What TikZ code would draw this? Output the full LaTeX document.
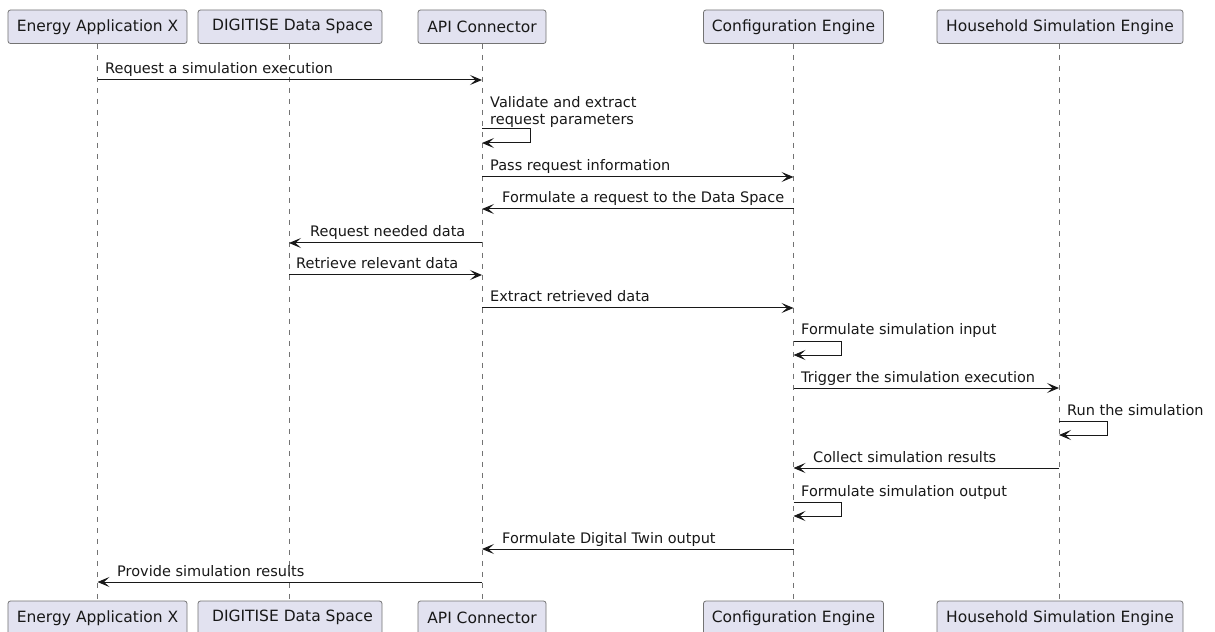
\documentclass[tikz,border=0pt]{standalone}
\usepackage{fontspec}
\setmainfont{DejaVu Sans}
\usetikzlibrary{arrows.meta}
\definecolor{lc}{HTML}{181818}
\definecolor{pbg}{HTML}{E2E2F0}
\begin{document}
\begin{tikzpicture}[x=1bp,y=-1bp,
  part/.style={draw=black!55, line width=0.8bp, fill=pbg, rounded corners=2.5bp,
    minimum height=33.5bp, inner sep=0pt, font=\fontsize{15.5bp}{18bp}\selectfont, text=lc},
  life/.style={draw=black!55, line width=0.7bp, dash pattern=on 5.5bp off 5.5bp},
  msg/.style={draw=lc, line width=1bp, -{Stealth[length=12bp,width=10bp,inset=5.5bp]}},
  lbl/.style={font=\fontsize{14.5bp}{17bp}\selectfont, inner sep=0pt, text=lc},
]
\useasboundingbox (0,0) rectangle (1215,632);
\fill[white] (0,0) rectangle (1215,632);
\begin{scope}
\clip (0,0) rectangle (1215,632);
% participants (top)
\node[part, minimum width=179bp] (pe) at (97.5,26.75) {Energy Application X};
\node[part, minimum width=184bp] (pd) at (290,26.75) {\hspace*{5bp}DIGITISE Data Space};
\node[part, minimum width=128bp] (pa) at (482,26.75) {API Connector};
\node[part, minimum width=180bp] (pc) at (793.5,26.75) {Configuration Engine};
\node[part, minimum width=246bp] (ph) at (1060,26.75) {Household Simulation Engine};
% participants (bottom)
\node[part, minimum width=179bp] (be) at (97.5,617.75) {Energy Application X};
\node[part, minimum width=184bp] (bd) at (290,617.75) {\hspace*{5bp}DIGITISE Data Space};
\node[part, minimum width=128bp] (ba) at (482,617.75) {API Connector};
\node[part, minimum width=180bp] (bc) at (793.5,617.75) {Configuration Engine};
\node[part, minimum width=246bp] (bh) at (1060,617.75) {Household Simulation Engine};
% lifelines
\draw[life] (pe.south) -- (be.north);
\draw[life] ([xshift=-1bp]pd.south) -- ([xshift=-1bp]bd.north);
\draw[life] (pa.south) -- (ba.north);
\draw[life] (pc.south) -- (bc.north);
\draw[life] ([xshift=-1bp]ph.south) -- ([xshift=-1bp]bh.north);
\coordinate (xd) at ([xshift=-1bp]pd.south);
\coordinate (xh) at ([xshift=-1bp]ph.south);
% rows
\coordinate (r1) at (0,80);
\coordinate (r2) at (0,129);
\coordinate (r3) at (0,177);
\coordinate (r4) at (0,209);
\coordinate (r5) at (0,243);
\coordinate (r6) at (0,275);
\coordinate (r7) at (0,308);
\coordinate (r8) at (0,341);
\coordinate (r9) at (0,388);
\coordinate (r10) at (0,421);
\coordinate (r11) at (0,468);
\coordinate (r12) at (0,502);
\coordinate (r13) at (0,549);
\coordinate (r14) at (0,582);
% messages
\draw[msg] (pe |- r1) -- (pa |- r1);
\node[lbl, anchor=base west] (t1) at (105,74) {Request a simulation execution};

\draw[msg] (pa |- r2) -- ++(48,0) -- ++(0,14) -- ++(-48,0);
\node[lbl, anchor=north west, align=left] (t2) at (490,96) {Validate and extract\\request parameters};

\draw[msg] (pa |- r3) -- (pc |- r3);
\node[lbl, anchor=base west] (t3) at (490,171) {Pass request information};

\draw[msg] (pc |- r4) -- (pa |- r4);
\node[lbl, anchor=base west] (t4) at (502,203) {Formulate a request to the Data Space};

\draw[msg] (pa |- r5) -- (xd |- r5);
\node[lbl, anchor=base west] (t5) at (310,237) {Request needed data};

\draw[msg] (xd |- r6) -- (pa |- r6);
\node[lbl, anchor=base west] (t6) at (296,269) {Retrieve relevant data};

\draw[msg] (pa |- r7) -- (pc |- r7);
\node[lbl, anchor=base west] (t7) at (490,302) {Extract retrieved data};

\draw[msg] (pc |- r8) -- ++(48,0) -- ++(0,14) -- ++(-48,0);
\node[lbl, anchor=base west] (t8) at (801,335) {Formulate simulation input};

\draw[msg] (pc |- r9) -- (xh |- r9);
\node[lbl, anchor=base west] (t9) at (801,382) {Trigger the simulation execution};

\draw[msg] (xh |- r10) -- ++(48,0) -- ++(0,14) -- ++(-48,0);
\node[lbl, anchor=base west] (t10) at (1067,415) {Run the simulation};

\draw[msg] (xh |- r11) -- (pc |- r11);
\node[lbl, anchor=base west] (t11) at (813,462) {Collect simulation results};

\draw[msg] (pc |- r12) -- ++(48,0) -- ++(0,14) -- ++(-48,0);
\node[lbl, anchor=base west] (t12) at (801,496) {Formulate simulation output};

\draw[msg] (pc |- r13) -- (pa |- r13);
\node[lbl, anchor=base west] (t13) at (502,543) {Formulate Digital Twin output};

\draw[msg] (pa |- r14) -- (pe |- r14);
\node[lbl, anchor=base west] (t14) at (117,576) {Provide simulation results};
\end{scope}
\end{tikzpicture}
\end{document}
